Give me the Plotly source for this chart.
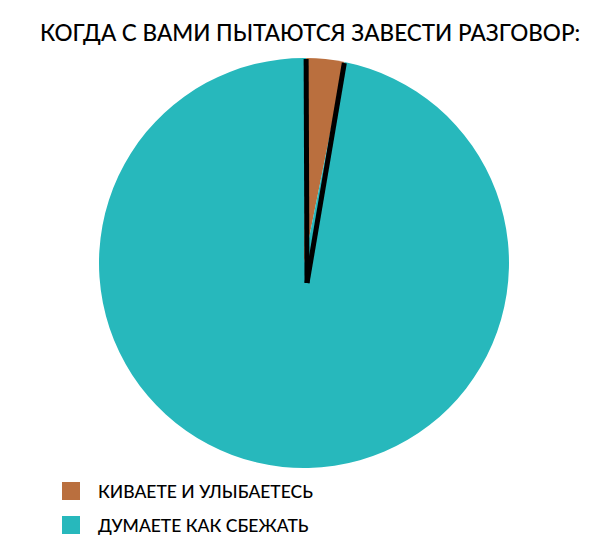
import math
import plotly.graph_objects as go

title_text = "КОГДА С ВАМИ ПЫТАЮТСЯ ЗАВЕСТИ РАЗГОВОР:"
labels = ["КИВАЕТЕ И УЛЫБАЕТЕСЬ", "ДУМАЕТЕ КАК СБЕЖАТЬ"]
values = [3, 97]
colors = ["#BA6F3E", "#27B8BC"]

W, H = 605, 551
cx_px, cy_px, r_px = 304, 263, 205
rotation = 0.6

fig = go.Figure()
fig.add_trace(go.Pie(
    labels=labels, values=values, sort=False, direction="clockwise",
    rotation=rotation, textinfo="none", hoverinfo="label+percent",
    marker=dict(colors=colors, line=dict(width=0)),
    domain=dict(x=[(cx_px - r_px) / W, (cx_px + r_px) / W],
                y=[1 - (cy_px + r_px) / H, 1 - (cy_px - r_px) / H]),
    showlegend=False,
))

# black boundary lines of the small slice, angles derived from the data
total = sum(values)
angles = [rotation, rotation + 360 * values[0] / total]
apex = (cx_px + 3, cy_px + 20)
shapes = []
for a in angles:
    rad = math.radians(a)
    x1 = cx_px + (r_px - 1) * math.sin(rad)
    y1 = cy_px - (r_px - 1) * math.cos(rad)
    shapes.append(dict(type="line", xref="paper", yref="paper",
                       x0=apex[0] / W, y0=1 - apex[1] / H,
                       x1=x1 / W, y1=1 - y1 / H,
                       line=dict(color="black", width=5)))

annotations = [dict(text=title_text, x=310 / W, y=1 - 33 / H, xref="paper", yref="paper",
                    showarrow=False, xanchor="center", yanchor="middle",
                    font=dict(family="Lato", size=22.5, color="black", weight=500))]

leg_y = [491, 525]
for lab, col, yy in zip(labels, colors, leg_y):
    shapes.append(dict(type="rect", xref="paper", yref="paper",
                       x0=62 / W, x1=80 / W, y0=1 - (yy + 9) / H, y1=1 - (yy - 9) / H,
                       fillcolor=col, line=dict(width=0)))
    annotations.append(dict(text=lab, x=96 / W, y=1 - yy / H, xref="paper", yref="paper",
                            showarrow=False, xanchor="left", yanchor="middle",
                            font=dict(family="Lato", size=17.5, color="black", weight=500)))

fig.update_layout(width=W, height=H, margin=dict(l=0, r=0, t=0, b=0),
                  paper_bgcolor="white", plot_bgcolor="white",
                  shapes=shapes, annotations=annotations)
fig.write_html("out.html", config={"displayModeBar": False},
               post_script="document.body.style.margin='0';document.body.style.overflow='hidden';")
